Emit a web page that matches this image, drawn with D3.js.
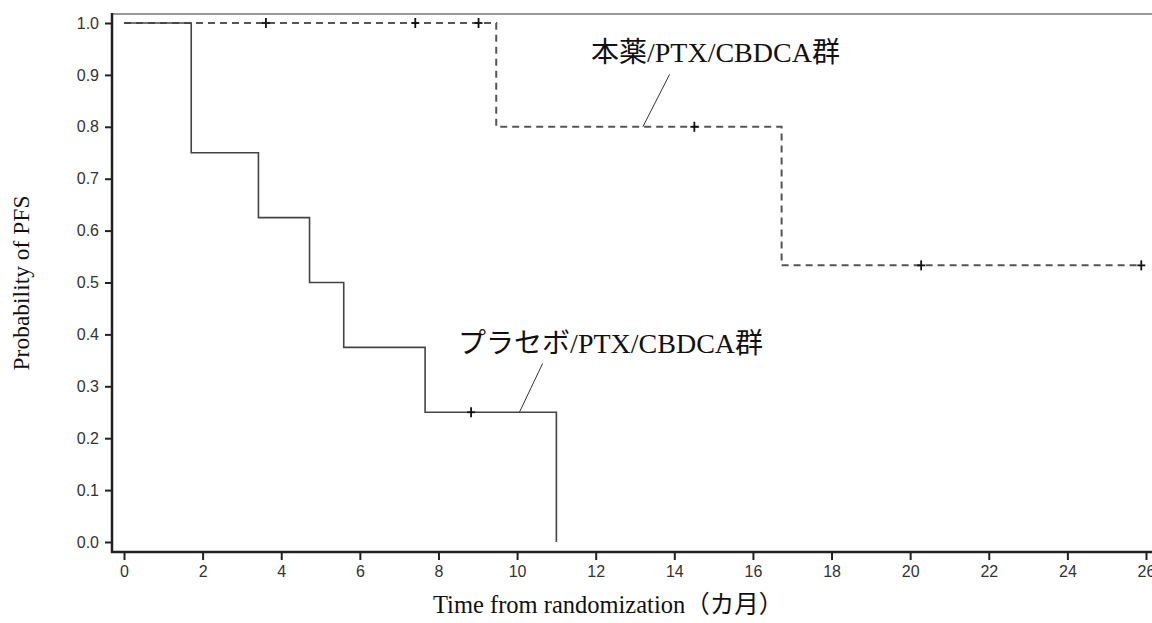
<html lang="ja">
  <head>
    <meta charset="utf-8">
    <title>Probability of PFS</title>
    <script src="https://d3js.org/d3.v7.min.js"></script>
    <style>
      body { margin: 0; background: white; }
      .tick text { font-family: "Liberation Sans", Arial, sans-serif; font-size: 16px; fill: #333; }
      .lab { font-family: "Liberation Serif", "Times New Roman", "Noto Sans CJK JP", serif; fill: #111; }
    </style>
  </head>

  <body>
  <script>

  var w = 1152;
  var h = 623;

  // data
  var xTicks = [0, 2, 4, 6, 8, 10, 12, 14, 16, 18, 20, 22, 24, 26];
  var yTicks = [0.0, 0.1, 0.2, 0.3, 0.4, 0.5, 0.6, 0.7, 0.8, 0.9, 1.0];

  // placebo arm: step times and survival
  var placeboTime = [0, 1.71, 3.42, 4.72, 5.59, 7.66, 11.0];
  var placeboSurv = [1.0, 0.75, 0.625, 0.5, 0.375, 0.25, 0.0];
  var placeboCensTime = [8.83];
  var placeboCensSurv = [0.25];

  // drug arm
  var drugTime = [0, 9.47, 16.73, 25.9];
  var drugSurv = [1.0, 0.8, 0.533, 0.533];
  var drugCensTime = [3.61, 7.41, 9.02, 14.51, 20.28, 25.88];
  var drugCensSurv = [1.0, 1.0, 1.0, 0.8, 0.533, 0.533];

  var labels = ["プラセボ/PTX/CBDCA群", "本薬/PTX/CBDCA群"];

  var xScale = d3.scaleLinear()
      .domain([0, 26])
      .range([124, 1146]);

  var yScale = d3.scaleLinear()
      .domain([0, 1])
      .range([542, 23]);

  var axisX = 112;
  var axisY = 552;

  // add svg
  var svg = d3.select("body")
    .append("svg")
      .attr("width", w)
      .attr("height", h);

  svg.append("rect")
    .attr("width", w)
    .attr("height", h)
    .attr("fill", "white");

  // top frame line
  svg.append("line")
    .attr("x1", axisX).attr("x2", w)
    .attr("y1", 14).attr("y2", 14)
    .attr("stroke", "#9a9a9a")
    .attr("stroke-width", 2);

  // add axes
  var yAxis = d3.axisLeft(yScale)
      .tickValues(yTicks)
      .tickFormat(d3.format(".1f"))
      .tickSize(7)
      .tickPadding(6);

  var gy = svg.append("g")
      .attr("transform", `translate(${axisX},0)`)
      .call(yAxis);

  var xAxis = d3.axisBottom(xScale)
      .tickValues(xTicks)
      .tickSize(8)
      .tickPadding(6);

  var gx = svg.append("g")
      .attr("transform", `translate(0,${axisY})`)
      .call(xAxis);

  svg.selectAll(".domain").remove();
  svg.selectAll(".tick line").attr("stroke", "#222").attr("stroke-width", 2);

  svg.append("line")
    .attr("x1", axisX).attr("x2", axisX)
    .attr("y1", 13).attr("y2", axisY + 1)
    .attr("stroke", "#222")
    .attr("stroke-width", 2.5);

  svg.append("line")
    .attr("x1", axisX - 1).attr("x2", w)
    .attr("y1", axisY).attr("y2", axisY)
    .attr("stroke", "#222")
    .attr("stroke-width", 2.5);

  // step curves
  var step = d3.line()
      .x(d => xScale(d[0]))
      .y(d => yScale(d[1]))
      .curve(d3.curveStepAfter);

  svg.append("path")
    .datum(drugTime.map((t, i) => [t, drugSurv[i]]))
    .attr("d", step)
    .attr("fill", "none")
    .attr("stroke", "#555")
    .attr("stroke-width", 2)
    .attr("stroke-dasharray", "7,5");

  svg.append("path")
    .datum(placeboTime.map((t, i) => [t, placeboSurv[i]]))
    .attr("d", step)
    .attr("fill", "none")
    .attr("stroke", "#444")
    .attr("stroke-width", 1.6);

  // censor marks
  var cens = placeboCensTime.map((t, i) => [t, placeboCensSurv[i]])
      .concat(drugCensTime.map((t, i) => [t, drugCensSurv[i]]));

  var marks = svg.append("g")
      .selectAll("g")
      .data(cens)
      .enter()
      .append("g")
      .attr("transform", d => `translate(${xScale(d[0])},${yScale(d[1])})`);

  marks.append("line")
    .attr("x1", -4).attr("x2", 4)
    .attr("stroke", "#111").attr("stroke-width", 1.8);
  marks.append("line")
    .attr("y1", -5).attr("y2", 5)
    .attr("stroke", "#111").attr("stroke-width", 1.8);

  // group labels with leader lines
  var notes = [
    {text: labels[0], tx: 8.5, ty: 0.364, from: [10.06, 0.25], to: [10.65, 0.344]},
    {text: labels[1], tx: 11.88, ty: 0.924, from: [13.2, 0.8], to: [13.88, 0.901]}
  ];

  notes.forEach(function(n) {
    svg.append("line")
      .attr("x1", xScale(n.from[0])).attr("y1", yScale(n.from[1]))
      .attr("x2", xScale(n.to[0])).attr("y2", yScale(n.to[1]))
      .attr("stroke", "#333")
      .attr("stroke-width", 1);
    svg.append("text")
      .attr("class", "lab")
      .attr("x", xScale(n.tx))
      .attr("y", yScale(n.ty))
      .attr("font-size", 28)
      .text(n.text);
  });

  // axis titles
  svg.append("text")
    .attr("class", "lab")
    .attr("transform", "translate(29,283) rotate(-90)")
    .attr("text-anchor", "middle")
    .attr("font-size", 23.5)
    .text("Probability of PFS");

  svg.append("text")
    .attr("class", "lab")
    .attr("x", 433)
    .attr("y", 613)
    .attr("font-size", 24.5)
    .text("Time from randomization（カ月）");

  </script>
  </body>
</html>
